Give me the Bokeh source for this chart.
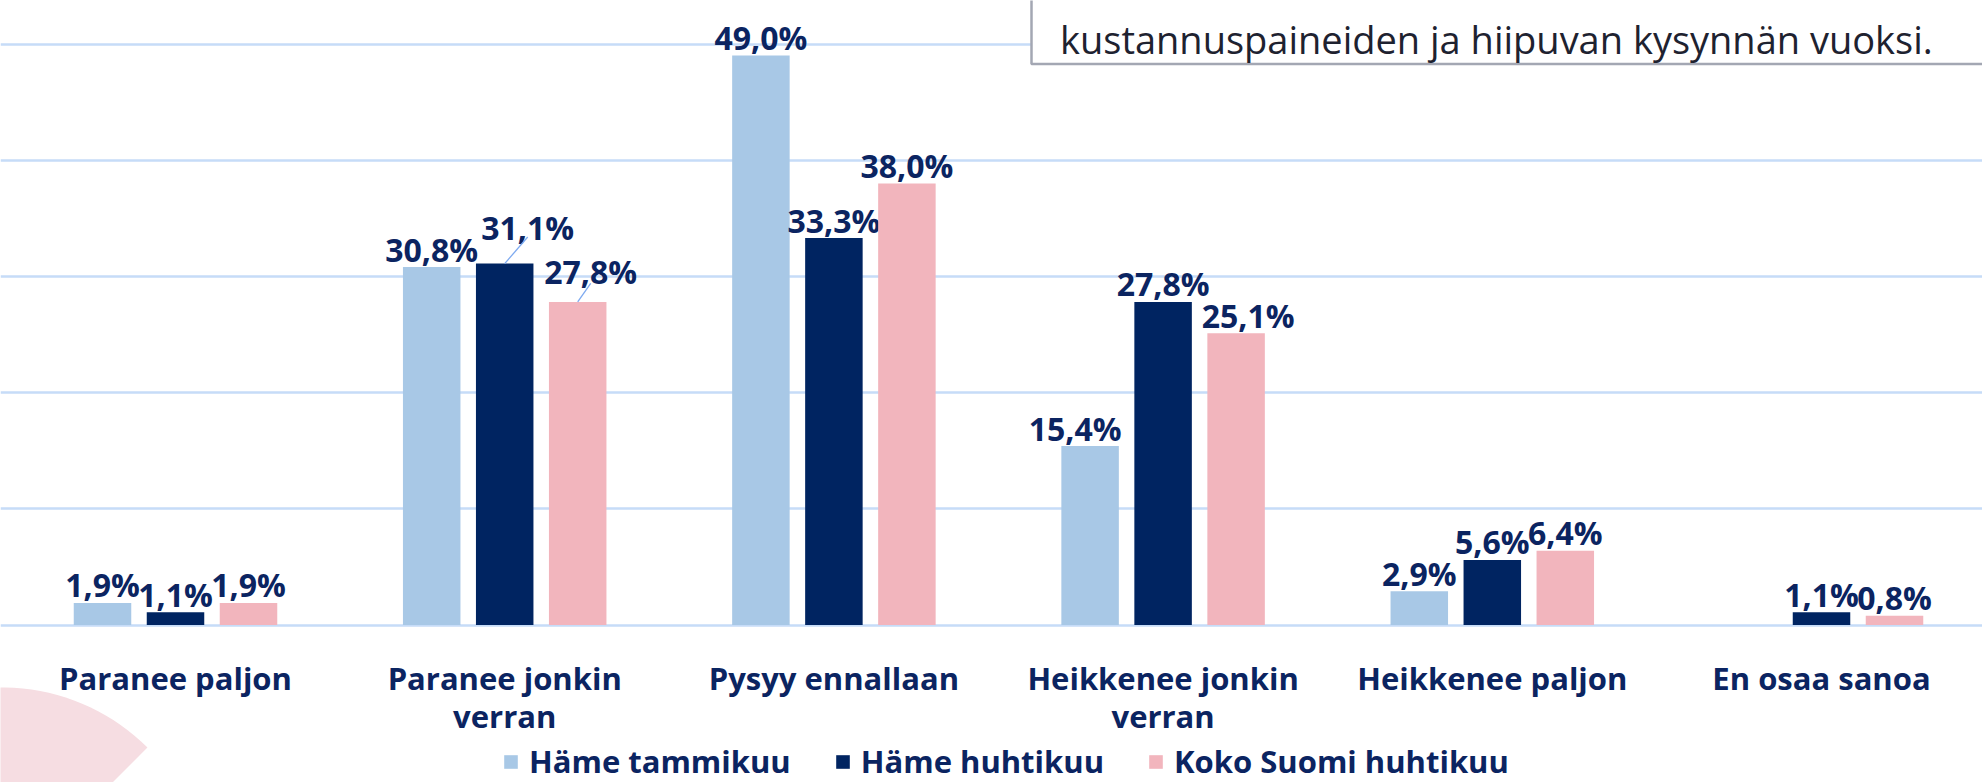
import numpy as np
from bokeh.plotting import figure
from bokeh.models import Range1d, Grid, FixedTicker, Legend, LegendItem, ColumnDataSource
from bokeh.core.properties import value
from bokeh.embed import file_html
from bokeh.resources import INLINE

# ---------------- data ----------------
categories = ["Paranee paljon", "Paranee jonkin\nverran", "Pysyy ennallaan",
              "Heikkenee jonkin\nverran", "Heikkenee paljon", "En osaa sanoa"]
series_names = ["Häme tammikuu", "Häme huhtikuu", "Koko Suomi huhtikuu"]
hame_tammikuu = [1.9, 30.8, 49.0, 15.4, 2.9, float("nan")]
hame_huhtikuu = [1.1, 31.1, 33.3, 27.8, 5.6, 1.1]
koko_suomi_huhtikuu = [1.9, 27.8, 38.0, 25.1, 6.4, 0.8]
grid_ticks = [0, 10, 20, 30, 40, 50]
note_text = "kustannuspaineiden ja hiipuvan kysynnän vuoksi."

# ---------------- styles / layout ----------------
colors = ["#a8c8e6", "#002461", "#f2b5bd"]
NAVY = "#0b2461"
FONT = "Open Sans"
W, H = 1982, 782
PX_X = 329.2          # px per category
PX_Y = 11.62          # px per percent point
x_start = 0.5 - 175 / PX_X
x_end = x_start + W / PX_X
y_end = 624.5 / PX_Y
y_start = y_end - H / PX_Y


def img_x(px):
    return x_start + px / PX_X


def img_y(py):
    return y_end - py / PX_Y


bar_offsets = [-73 / PX_X, 0.0, 73 / PX_X]
bar_width = 57.5 / PX_X
label_dx = [[0, 0, 0, -15, 0, 0], [0, 23, 0, 0, 0, 0], [0, 13, 0, 12, 0, 0]]
label_dy = [[0, 0, 0, 0, 0, 0], [0, -18, 0, 0, 0, 0], [0, -12, 0, 0, 0, 0]]
leaders = [(1, 1, 23, -26.6), (2, 1, 13, -18.7)]  # series, category, dx px, dy px

p = figure(width=W, height=H, x_range=Range1d(x_start, x_end), y_range=Range1d(y_start, y_end),
           x_axis_type=None, y_axis_type=None, toolbar_location=None, output_backend="svg",
           min_border=0, outline_line_color=None)
p.background_fill_color = "white"

p.add_layout(Grid(dimension=1, ticker=FixedTicker(ticks=grid_ticks),
                  grid_line_color="#c6dcf8", grid_line_width=2.5))

# decorative pink wedge bottom-left (slide background element)
ang = np.radians(np.linspace(-45, -190, 60))
cx, cy, R = 2, 892, 205
wx = [img_x(cx)] + [img_x(cx + R * np.cos(a)) for a in ang] + [img_x(cx)]
wy = [img_y(cy)] + [img_y(cy + R * np.sin(a)) for a in ang] + [img_y(cy)]
p.patch(wx, wy, fill_color="#f6dde2", line_color=None)

# bars
series = [hame_tammikuu, hame_huhtikuu, koko_suomi_huhtikuu]
base_x = np.arange(len(categories)) + 0.5
renderers = []
for k, vals in enumerate(series):
    v = np.array(vals, dtype=float)
    src = ColumnDataSource(dict(x=base_x + bar_offsets[k], top=v))
    r = p.vbar(x="x", top="top", bottom=0, width=bar_width, source=src,
               fill_color=colors[k], line_color=None)
    renderers.append(r)
    ok = ~np.isnan(v)
    lab = ColumnDataSource(dict(
        x=(base_x + bar_offsets[k])[ok],
        y=v[ok],
        text=[f"{t:.1f}".replace(".", ",") + "%" for t in v[ok]],
        dx=np.array(label_dx[k], dtype=float)[ok],
        dy=np.array(label_dy[k], dtype=float)[ok] - 18,
    ))
    p.text(x="x", y="y", text="text", x_offset="dx", y_offset="dy", source=lab,
           text_font=value(FONT), text_font_style="bold", text_font_size="32px",
           text_color=NAVY, text_align="center", text_baseline="alphabetic")

# leader lines
for s, c, dxp, dyp in leaders:
    x0 = base_x[c] + bar_offsets[s]
    y0 = series[s][c]
    p.segment(x0=[x0], y0=[y0], x1=[x0 + dxp / PX_X], y1=[y0 - dyp / PX_Y],
              line_color="#7eaaf0", line_width=1.3)

# category labels (multi-line)
l1 = [c.split("\n")[0] for c in categories]
l2 = [c.split("\n")[1] if "\n" in c else "" for c in categories]
for txt, off in ((l1, 53), (l2, 90.5)):
    p.text(x=list(base_x), y=[0] * len(categories), text=txt, y_offset=off,
           text_font=value(FONT), text_font_style="bold", text_font_size="31px",
           text_color=NAVY, text_align="center", text_baseline="alphabetic")

# note box at top right
p.quad(left=[img_x(1031)], right=[x_end + 1], top=[y_end + 2], bottom=[img_y(63.5)],
       fill_color="white", line_color="#a3a7b3", line_width=2.5)
p.text(x=[img_x(1059.5)], y=[img_y(38)], text=[note_text],
       text_font=value(FONT), text_font_size="38px", text_color="#1e2230",
       text_baseline="alphabetic", text_align="left")

legend = Legend(items=[LegendItem(label=n, renderers=[r]) for n, r in zip(series_names, renderers)],
                orientation="horizontal", location=(502, 0),
                glyph_width=17, glyph_height=17, label_standoff=10, spacing=43,
                padding=0, margin=0, border_line_color=None, background_fill_alpha=0,
                label_text_font=FONT, label_text_font_size="31px",
                label_text_font_style="bold", label_text_color=NAVY)
p.add_layout(legend)

open("out.html", "w").write(file_html(p, INLINE))
